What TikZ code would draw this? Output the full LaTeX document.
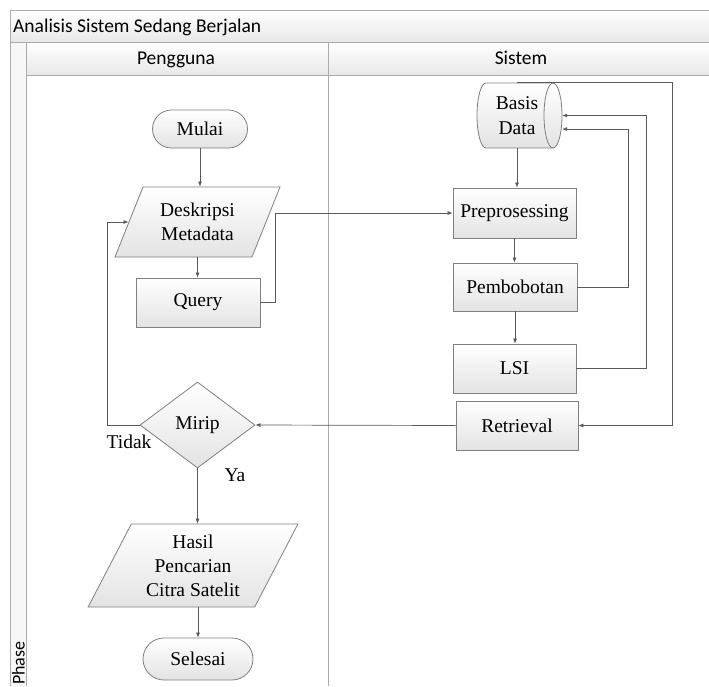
\documentclass[tikz,border=0pt]{standalone}
\usepackage{fontspec}
\setmainfont{Liberation Serif}
\newfontfamily\lanefont{Carlito}
\usetikzlibrary{shapes.geometric,arrows.meta,calc}

\begin{document}
\begin{tikzpicture}[x=1pt,y=1pt,
  frameline/.style={draw=black!33, line width=0.9pt},
  barfill/.style={top color=white, bottom color=black!9},
  lanetext/.style={font=\lanefont\fontsize{19.5}{21}\selectfont, inner sep=0pt},
  box/.style={draw=black!50, line width=0.8pt, top color=white, bottom color=black!11,
    font=\fontsize{19.5}{24}\selectfont, align=center, inner sep=0pt},
  proc/.style={box, rectangle, minimum width=124, minimum height=49},
  term/.style={box, rectangle, rounded corners=19pt, minimum width=95, minimum height=38},
  io/.style={box, trapezium, trapezium left angle=63, trapezium right angle=117,
    trapezium stretches=true},
  decision/.style={box, diamond, minimum width=115, minimum height=86},
  label/.style={font=\fontsize{19.5}{22}\selectfont, inner sep=0pt},
  flow/.style={draw=black!65, line width=0.7pt, -{Latex[length=5pt,width=4pt]}}]

\useasboundingbox (0,0) rectangle (709,-686);
\fill[white] (0,0) rectangle (709,-686);

% pool title bar, phase column and lane headers
\fill[barfill] (10,-10) rectangle (709,-42);
\fill[black!3] (10,-42) rectangle (26,-686);
\fill[barfill] (26,-42) rectangle (709,-75);
\draw[frameline] (10,-686) -- (10,-10) -- (709,-10);
\draw[frameline] (10,-42) -- (709,-42);
\draw[frameline] (26,-42) -- (26,-686);
\draw[frameline] (26,-75) -- (709,-75);
\draw[frameline] (328,-42) -- (328,-686);

\node[lanetext, anchor=base west] (title) at (13,-32) {Analisis Sistem Sedang Berjalan};
\node[lanetext, anchor=base] (lane1) at (176,-64) {Pengguna};
\node[lanetext, anchor=base] (lane2) at (521,-64) {Sistem};
\node[lanetext, font=\lanefont\fontsize{18}{20}\selectfont, rotate=90, anchor=base west] (phase) at (24.5,-685) {Phase};

% database drum
\path[draw=black!50, line width=0.8pt, top color=white, bottom color=black!11]
  (486,-83) -- (553,-83) arc[start angle=90, end angle=-90, x radius=9, y radius=32.5]
  -- (486,-148) arc[start angle=270, end angle=90, x radius=9, y radius=32.5] -- cycle;
\draw[draw=black!50, line width=0.8pt]
  (553,-83) arc[start angle=90, end angle=270, x radius=9, y radius=32.5];
\node[font=\fontsize{19.5}{25}\selectfont, align=center, inner sep=0pt,
  minimum width=85, minimum height=65] (bd) at (517,-115.5) {Basis\\Data};

% user lane
\node[term] (mulai) at (200,-129) {Mulai};
\node[io, minimum width=165, minimum height=70] (desk) at (197.5,-222) {Deskripsi\\Metadata};
\node[proc] (query) at (198,-302.5) {Query};
\node[decision] (mirip) at (197.5,-425) {Mirip};
\node[io, trapezium left angle=62, trapezium right angle=118,
  minimum width=210, minimum height=83] (hasil) at (193,-565.5) {Hasil\\Pencarian\\Citra Satelit};
\node[term, minimum width=110, minimum height=42, rounded corners=21pt] (selesai) at (198,-659) {Selesai};

% system lane
\node[proc, minimum width=123, minimum height=50] (pre) at (514.5,-213) {Preprosessing};
\node[proc, minimum height=48] (pem) at (515,-287) {Pembobotan};
\node[proc, minimum width=123] (lsi) at (514.5,-368.5) {LSI};
\node[proc, minimum width=122] (ret) at (517,-425.5) {Retrieval};

% branch labels
\node[label] (tidak) at (129,-442) {Tidak};
\node[label] (ya) at (235,-475) {Ya};

% connectors
\draw[flow] (mulai.south) -- (mulai.south |- desk.north);
\draw[flow] (desk.south) -- (desk.south |- query.north);
\draw[flow] (query.east) -- ++(15,0) |- (pre.west);
\draw[flow] (bd.south) -- (bd.south |- pre.north);
\draw[flow] (pre.south) -- (pre.south |- pem.north);
\draw[flow] (pem.south) -- (pem.south |- lsi.north);
\draw[flow] (pem.east) -- ++(51,0) |- ($(bd.east)+(2.5,-13.5)$);
\draw[flow] (lsi.east) -- ++(70,0) |- ($(bd.east)+(2.5,0)$);
\draw[flow] (bd.north) -- ++(155,0) |- (ret.east);
\draw[flow] (ret.west) -- (mirip.east);
\draw[flow] (mirip.west) -- ++(-32,0) |- (desk.west);
\draw[flow] (mirip.south) -- (mirip.south |- hasil.north);
\draw[flow] (selesai.north |- hasil.south) -- (selesai.north);

\end{tikzpicture}
\end{document}
